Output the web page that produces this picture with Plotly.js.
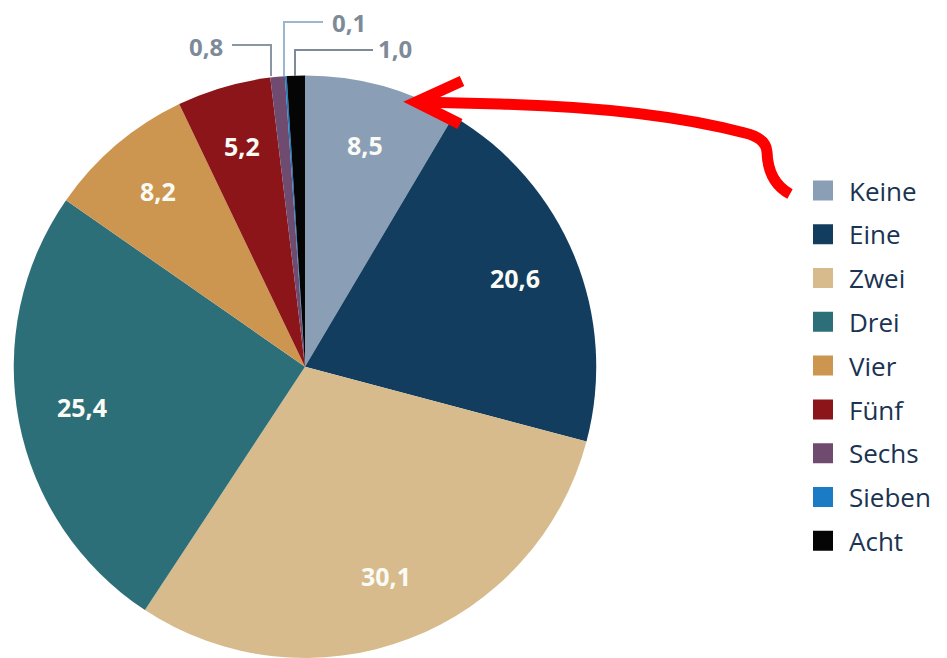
<!DOCTYPE html>
<html>
<head>
<meta charset="utf-8">
<script src="https://cdn.plot.ly/plotly-3.0.1.min.js"></script>
<style>html,body{margin:0;padding:0;background:#fff}#chart{width:947px;height:658px}</style>
</head>
<body>
<div id="chart"></div>
<script>
// ---- data ----
const labels = ['Keine', 'Eine', 'Zwei', 'Drei', 'Vier', 'Fünf', 'Sechs', 'Sieben', 'Acht'];
const values = [8.5, 20.6, 30.1, 25.4, 8.2, 5.2, 0.8, 0.1, 1.0];
const colors = ['#8a9fb5', '#133d5e', '#d7bb8d', '#2d6f79', '#cc9650', '#8c1519', '#6f4c6f', '#1b7bc4', '#050505'];
const outsideIdx = [6, 7, 8];   // small slices labelled outside

const W = 947, H = 658;
const px = (x, y) => (x / W).toFixed(5) + ',' + (1 - y / H).toFixed(5);
const fmt = v => v.toFixed(1).replace('.', ',');

// pie geometry (pixels)
const CX = 305, R = 291.25, CY = H - R;

const pie = {
  type: 'pie',
  labels: labels,
  values: values,
  sort: false,
  direction: 'clockwise',
  rotation: 0,
  marker: {colors: colors, line: {width: 0}},
  textinfo: 'none',
  domain: {x: [(CX - R) / W, (CX + R) / W], y: [0, 2 * R / H]},
  showlegend: false,
  hoverinfo: 'skip'
};

const legendTraces = labels.map((l, i) => ({
  type: 'scatter', mode: 'markers', x: [null], y: [null], name: l,
  legendgroup: 'g' + i,
  marker: {symbol: 'square', size: 16, color: colors[i], line: {color: colors[i], width: 4}},
  hoverinfo: 'skip'
}));

// inside labels: placed along each slice's mid angle
const total = values.reduce((a, b) => a + b, 0);
let cum = 0;
const insideAnn = [];
values.forEach((v, i) => {
  const mid = (cum + v / 2) / total * 2 * Math.PI;
  cum += v;
  if (outsideIdx.includes(i)) return;
  const rr = 0.78 * R;
  const x = CX + rr * Math.sin(mid), y = CY - rr * Math.cos(mid) - 3;
  insideAnn.push({
    xref: 'paper', yref: 'paper', x: x / W, y: 1 - y / H,
    xanchor: 'center', yanchor: 'middle', showarrow: false,
    text: fmt(v),
    font: {family: 'Open Sans', size: 25, color: '#fbfbf5', weight: 700}
  });
});

// outside labels with leader lines
const outPos = {6: [206, 46], 7: [349, 22], 8: [395, 48]};
const outsideAnn = outsideIdx.map(i => ({
  xref: 'paper', yref: 'paper', x: outPos[i][0] / W, y: 1 - outPos[i][1] / H,
  xanchor: 'center', yanchor: 'middle', showarrow: false,
  text: fmt(values[i]),
  font: {family: 'Open Sans', size: 24, color: '#7d8b99', weight: 700}
}));

const leader = (pts, color) => ({
  type: 'path', xref: 'paper', yref: 'paper',
  path: 'M' + pts.map(p => px(p[0], p[1])).join('L'),
  line: {color: color, width: 2}
});

const arrowShaft = 'M' + px(790, 194) +
  'Q' + px(768, 182) + ' ' + px(767, 152) +
  'Q' + px(766, 138) + ' ' + px(745, 133) +
  'Q' + px(650, 108) + ' ' + px(500, 104) +
  'L' + px(418, 102);
const arrowHead = 'M' + px(462, 81) + 'L' + px(416, 102) + 'L' + px(460, 124);

const shapes = [
  leader([[232, 45], [271, 45], [271, 76]], '#8a96a3'),
  leader([[323, 22], [284, 22], [284, 76]], '#9bb6cf'),
  leader([[373, 50], [295, 50], [295, 76]], '#7d8b99'),
  {type: 'path', xref: 'paper', yref: 'paper', path: arrowShaft, line: {color: '#ff0000', width: 11}},
  {type: 'path', xref: 'paper', yref: 'paper', path: arrowHead, line: {color: '#ff0000', width: 11}}
];

const layout = {
  width: W, height: H,
  margin: {l: 0, r: 0, t: 0, b: 0},
  paper_bgcolor: '#ffffff', plot_bgcolor: 'rgba(0,0,0,0)',
  separators: ',.',
  xaxis: {visible: false, range: [0, 1]},
  yaxis: {visible: false, range: [0, 1]},
  showlegend: true,
  legend: {
    x: 797 / W, xanchor: 'left', y: 1 - 167 / H, yanchor: 'top',
    traceorder: 'grouped', tracegroupgap: 7, itemwidth: 42,
    font: {family: 'Open Sans', size: 26, color: '#1a3352'},
    bgcolor: 'rgba(0,0,0,0)'
  },
  annotations: insideAnn.concat(outsideAnn),
  shapes: shapes
};

Plotly.newPlot('chart', [pie].concat(legendTraces), layout, {displayModeBar: false, staticPlot: true});
</script>
</body>
</html>
